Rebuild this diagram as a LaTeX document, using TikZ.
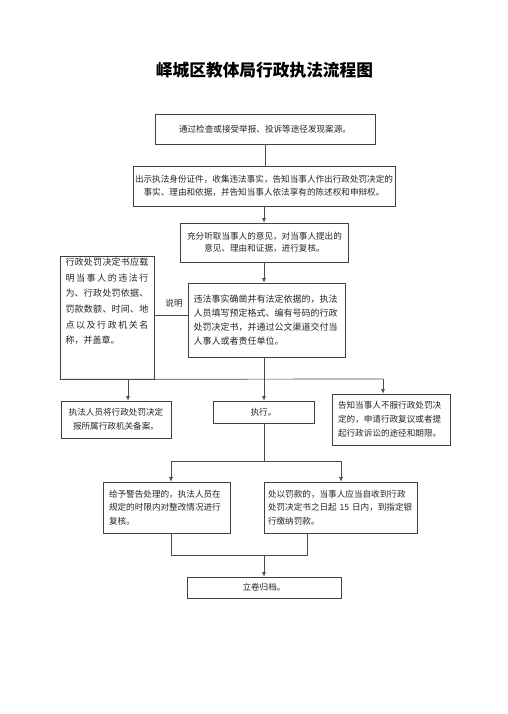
\documentclass[tikz,border=0pt]{standalone}
\usepackage{fontspec}
\setmainfont{Noto Sans CJK SC}
\usetikzlibrary{arrows.meta}
\XeTeXlinebreaklocale "zh"
\XeTeXlinebreakskip=0pt plus 1pt
\def\spreadline#1{\leavevmode\hbox to 83pt{\spreadfirst#1\relax}}
\def\spreadfirst#1{#1\spreadrest}
\def\spreadrest#1{\ifx#1\relax\else\hfil#1\expandafter\spreadrest\fi}
\begin{document}
\begin{tikzpicture}[x=1pt,y=-1pt,
  box/.style={draw=black!75, line width=0.7pt, inner sep=0pt, font=\fontsize{8.6}{14}\selectfont, text=black!85},
  ln/.style={draw=black!70, line width=0.7pt},
  arr/.style={ln, -{Latex[length=4.5pt,width=4pt]}}]
\useasboundingbox[fill=white] (0,0) rectangle (507,714);
\node[font=\fontsize{16.7}{18}\bfseries\selectfont] (title) at (264.5,70) {峄城区教体局行政执法流程图};
\node[box, minimum width=220pt, minimum height=30pt] (b1) at (265,129) {通过检查或接受举报、投诉等途径发现案源。};
\node[box, minimum width=262pt, minimum height=40pt, align=center, font=\fontsize{8.6}{13}\selectfont] (b2) at (264,186) {出示执法身份证件，收集违法事实，告知当事人作出行政处罚决定的\\事实、理由和依据，并告知当事人依法享有的陈述权和申辩权。};
\node[box, minimum width=168pt, minimum height=39pt, align=center, font=\fontsize{8.6}{12}\selectfont] (b3) at (264.5,242.5) {充分听取当事人的意见，对当事人提出的\\意见、理由和证据，进行复核。};
\node[box, minimum width=157pt, minimum height=74pt, text width=146pt, align=left, font=\fontsize{9}{14}\selectfont] (b4) at (266.5,320) {违法事实确凿并有法定依据的，执法\\人员填写预定格式、编有号码的行政\\处罚决定书，并通过公文渠道交付当\\人事人或者责任单位。};
\node[box, minimum width=94pt, font=\fontsize{9}{15.6}\selectfont] (lb) at (107,317.5) {\parbox[c][123pt][t]{83pt}{\vspace{2pt}\spreadline{行政处罚决定书应载}\\\spreadline{明当事人的违法行}\\\spreadline{为、行政处罚依据、}\\\spreadline{罚款数额、时间、地}\\\spreadline{点以及行政机关名}\\称，并盖章。}};
\node[font=\fontsize{8.6}{10}\selectfont, text=black!85] (sm) at (174,303) {说明};
\node[box, minimum width=110pt, minimum height=37pt, align=center] (b5) at (116,419.5) {执法人员将行政处罚决定\\报所属行政机关备案。};
\node[box, minimum width=101pt, minimum height=22pt] (b6) at (263.5,412) {执行。};
\node[box, minimum width=118pt, minimum height=51pt, text width=106pt, align=left] (b7) at (391,419.5) {告知当事人不服行政处罚决\\定的，申请行政复议或者提\\起行政诉讼的途径和期限。};
\node[box, minimum width=127pt, minimum height=51pt, text width=115pt, align=left, font=\fontsize{8.6}{13.5}\selectfont] (b8) at (166.5,507.5) {给予警告处理的，执法人员在\\规定的时限内对整改情况进行\\复核。};
\node[box, minimum width=153pt, minimum height=51pt, text width=145pt, align=left, font=\fontsize{8.6}{13.5}\selectfont] (b9) at (340.5,507.5) {处以罚款的，当事人应当自收到行政\\处罚决定书之日起 15 日内，到指定银\\行缴纳罚款。};
\node[box, minimum width=154pt, minimum height=21pt] (b10) at (264,587.5) {立卷归档。};
% connectors
\draw[ln] (b1.south) -- (b1.south |- b2.north);
\draw[arr] (b2.south -| 264,0) -- (264,0 |- b3.north);
\draw[arr] (b3.south -| 264,0) -- (264,0 |- b4.north);
\draw[ln] (lb.east |- 0,315) -- (b4.west |- 0,315);
\coordinate (hr) at (383,379);
\coordinate (h5) at (128,379);
\draw[ln] (lb.south west) -- (hr);
\draw[arr] (hr) -- (hr |- b7.north);
\draw[arr] (h5) -- (h5 |- b5.north);
\draw[arr] (b4.south -| 264,0) -- (264,0 |- b6.north);
\coordinate (m1) at (264,461);
\coordinate (m1l) at (171,461);
\coordinate (m1r) at (341,461);
\draw[ln] (b6.south -| m1) -- (m1);
\draw[ln] (m1l) -- (m1r);
\draw[arr] (m1l) -- (m1l |- b8.north);
\draw[arr] (m1r) -- (m1r |- b9.north);
\coordinate (m2l) at (171,555);
\coordinate (m2r) at (307,555);
\coordinate (m2) at (264,555);
\draw[ln] (b8.south -| m2l) -- (m2l) -- (m2r) -- (b9.south -| m2r);
\draw[arr] (m2) -- (m2 |- b10.north);
\end{tikzpicture}
\end{document}
